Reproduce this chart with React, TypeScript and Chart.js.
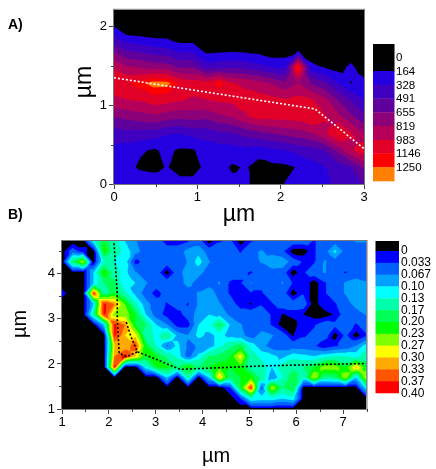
import React, { useEffect, useRef } from "react";
import { Chart, registerables } from "chart.js";

Chart.register(...registerables);

const FONT = "'Liberation Sans', Arial, sans-serif";

// ---------- Panel A ----------
const xsA = [0, 0.158, 0.316, 0.474, 0.632, 0.789, 0.947, 1.105, 1.263, 1.421, 1.579, 1.737, 1.895, 2.053, 2.211, 2.368, 2.526, 2.684, 2.842, 3];
const ysA = [0, 0.213, 0.427, 0.64, 0.853, 1.067, 1.28, 1.493, 1.707, 1.92, 2.133, 2.347];
const a00 = [240, 280, 335, 280, 220, 220, 210, 210, 210, 210, 180, 130, 120, 170, 210, 280, 300, 360, 420, 500];
const a01 = [250, 220, 130, 110, 175, 100, 110, 200, 230, 140, 180, 100, 120, 130, 175, 260, 320, 400, 480, 680];
const a02 = [280, 240, 190, 140, 200, 140, 150, 230, 250, 260, 280, 230, 300, 320, 380, 420, 480, 700, 950, 1120];
const a03 = [400, 440, 420, 410, 340, 330, 370, 400, 450, 470, 550, 600, 650, 700, 740, 800, 950, 1170, 1000, 840];
const a04 = [660, 700, 750, 780, 730, 700, 720, 700, 780, 830, 960, 1040, 1040, 1040, 1060, 1150, 1000, 880, 700, 530];
const a05 = [950, 980, 1000, 1070, 1050, 1000, 960, 980, 1010, 1020, 1040, 1060, 1030, 1000, 1040, 1010, 880, 650, 480, 320];
const a06 = [1080, 1130, 1210, 1310, 1300, 1130, 1060, 1050, 1200, 1000, 950, 880, 800, 700, 820, 640, 520, 330, 160, 220];
const a07 = [960, 820, 790, 740, 720, 620, 620, 390, 420, 450, 420, 370, 290, 290, 1260, 210, 140, 90, 200, 60];
const a08 = [610, 464, 430, 380, 365, 270, 270, 100, 110, 120, 110, 90, 50, 50, 110, 30, 20, 10, 30, 0];
const a09 = [260, 120, 100, 70, 60, 0, 0, 0, 0, 0, 0, 0, 0, 0, 0, 0, 0, 0, 0, 0];
const a10 = [0, 0, 0, 0, 0, 0, 0, 0, 0, 0, 0, 0, 0, 0, 0, 0, 0, 0, 0, 0];
const a11 = [0, 0, 0, 0, 0, 0, 0, 0, 0, 0, 0, 0, 0, 0, 0, 0, 0, 0, 0, 0];
const gridA = [a00, a01, a02, a03, a04, a05, a06, a07, a08, a09, a10, a11];
const levelsA = [0, 164, 328, 491, 655, 819, 983, 1146, 1250];
const labelsA = ["0", "164", "328", "491", "655", "819", "983", "1146", "1250"];
const colorsA = ["#000000", "#2400e0", "#4000c0", "#60009c", "#8c0078", "#b40058", "#e00028", "#ff0000", "#ff8000"];
const lineAx = [0, 2.41, 3];
const lineAy = [1.35, 0.954, 0.45];

// ---------- Panel B ----------
const xsB = [1, 1.224, 1.448, 1.672, 1.897, 2.121, 2.345, 2.569, 2.793, 3.017, 3.241, 3.466, 3.69, 3.914, 4.138, 4.362, 4.586, 4.81, 5.034, 5.259, 5.483, 5.707, 5.931, 6.155, 6.379, 6.603, 6.828, 7.052, 7.276, 7.5];
const ysB = [1, 1.23, 1.47, 1.7, 1.93, 2.17, 2.4, 2.63, 2.87, 3.1, 3.33, 3.57, 3.8, 4.03, 4.27, 4.5, 4.73];
const b00 = [0, 0, 0, 0, 0, 0, 0, 0, 0, 0, 0, 0, 0, 0, 0, 0, 0, 0, 0, 0, 0, 0, 0, 0, 0, 0, 0, 0, 0, 0];
const b01 = [0, 0, 0, 0, 0, 0, 0, 0, 0, 0, 0, 0, 0, 0, 0, 0, 0, 0.03, 0.13, 0.12, 0.12, 0.1, 0.12, 0, 0, 0, 0, 0, 0, 0];
const b02 = [0, 0, 0, 0, 0, 0, 0, 0, 0, 0, 0, 0, 0, 0, 0, 0, 0.03, 0.2, 0.37, 0.05, 0.27, 0.17, 0.2, 0, 0, 0, 0, 0, 0, 0.12];
const b03 = [0, 0, 0, 0, 0, 0, 0, 0, 0, 0, 0.1, 0, 0.15, 0, 0.1, 0.31, 0.17, 0.2, 0.22, 0.16, 0.07, 0.13, 0.2, 0.13, 0.27, 0.16, 0.17, 0.26, 0.1, 0.28];
const b04 = [0, 0, 0, 0, 0, 0.38, 0, 0, 0.12, 0.2, 0.21, 0.17, 0.22, 0.17, 0.2, 0.22, 0.2, 0.22, 0.15, 0.15, 0.1, 0.15, 0.16, 0.17, 0.2, 0.25, 0.25, 0.2, 0.31, 0.2];
const b05 = [0, 0, 0, 0, 0, 0.33, 0.39, 0.3, 0.2, 0.2, 0.16, 0.12, 0.05, 0.11, 0.17, 0.18, 0.2, 0.29, 0.15, 0.12, 0.11, 0.09, 0.12, 0.11, 0.1, 0.12, 0.13, 0.13, 0.12, 0.15];
const b06 = [0, 0, 0, 0, 0, 0.3, 0.3, 0.36, 0.2, 0.13, 0.06, 0.11, 0.06, 0.07, 0.08, 0.12, 0.16, 0.19, 0.12, 0.08, 0.05, 0.05, 0.05, 0.05, 0.04, 0.01, 0.03, 0.04, 0.07, 0.12];
const b07 = [0, 0, 0, 0, 0, 0.38, 0.3, 0.29, 0.15, 0.12, 0.17, 0.09, 0.07, 0.11, 0.09, 0.11, 0.09, 0.08, 0.05, 0.08, 0.07, 0.05, 0.01, 0.03, 0.04, 0.05, 0, 0.04, 0, 0.03];
const b08 = [0, 0, 0, 0, 0.1, 0.38, 0.33, 0.2, 0.17, 0.1, 0.07, 0.02, 0.02, 0.1, 0.12, 0.19, 0.1, 0.07, 0.05, 0.05, 0.03, 0, 0, 0.03, 0.03, 0.05, 0.04, 0.05, 0.03, 0.05];
const b09 = [0, 0, 0, 0.15, 0.38, 0.25, 0.25, 0.2, 0.1, 0.05, 0.02, 0.02, 0.05, 0.08, 0.1, 0.09, 0.06, 0.05, 0.05, 0.05, 0.03, 0.01, 0.02, 0.012, 0, 0, 0.015, 0.05, 0.05, 0.07];
const b10 = [0, 0, 0, 0.1, 0.38, 0.33, 0.23, 0.14, 0.08, 0.05, 0.03, 0.05, 0.03, 0.07, 0.09, 0.07, 0.05, 0.02, 0.01, 0.03, 0.03, 0.05, 0.05, 0.05, 0, 0.03, 0.03, 0.05, 0.08, 0.09];
const b11 = [0.02, 0, 0, 0.37, 0.15, 0.2, 0.14, 0.09, 0.05, 0.02, 0.05, 0.05, 0.05, 0.07, 0.09, 0.05, 0.03, 0.02, 0.03, 0.03, 0.05, 0.05, 0, 0.03, 0, 0.03, 0.05, 0.07, 0.09, 0.09];
const b12 = [0, 0, 0, 0.1, 0.17, 0.18, 0.1, 0.1, 0.07, 0.05, 0.05, 0.05, 0.08, 0.05, 0.05, 0.07, 0.03, 0.03, 0.07, 0.04, 0.05, 0.07, 0.03, 0.03, 0, 0.03, 0.05, 0.07, 0.08, 0.07];
const b13 = [0, 0, 0, 0.1, 0.23, 0.15, 0.11, 0.07, 0.05, 0.05, 0, 0.05, 0.09, 0.08, 0.05, 0.05, 0.05, 0.04, 0.03, 0.05, 0.05, 0.05, 0, 0.03, 0.05, 0.07, 0.05, 0.03, 0.05, 0.05];
const b14 = [0, 0.18, 0.27, 0, 0.14, 0.13, 0.12, 0.02, 0.05, 0.05, 0.05, 0.05, 0.07, 0.115, 0.07, 0.05, 0.05, 0.05, 0.05, 0.07, 0.1, 0.09, 0.05, 0.03, 0.03, 0.07, 0.05, 0.05, 0.05, 0.05];
const b15 = [0, 0.05, 0.02, 0, 0.22, 0.15, 0.12, 0.08, 0.05, 0.05, 0.05, 0.05, 0.08, 0.09, 0.05, 0.05, 0.05, 0.03, 0.06, 0.07, 0.05, 0.04, 0, 0, 0.03, 0.05, 0.11, 0.05, 0.05, 0.05];
const b16 = [0, 0, 0, 0.12, 0.2, 0.14, 0.1, 0.07, 0.05, 0.05, 0.02, 0.02, 0.03, 0.05, 0, 0.03, 0.04, 0, 0.03, 0.04, 0.05, 0.05, 0.05, 0.05, 0.03, 0.05, 0.05, 0.05, 0.07, 0.07];
const gridB = [b00, b01, b02, b03, b04, b05, b06, b07, b08, b09, b10, b11, b12, b13, b14, b15, b16];
const levelsB = [-1, 0.012, 0.033, 0.067, 0.1, 0.13, 0.17, 0.2, 0.23, 0.27, 0.3, 0.33, 0.37];
const labelsB = ["0", "0.033", "0.067", "0.10", "0.13", "0.17", "0.20", "0.23", "0.27", "0.30", "0.33", "0.37", "0.40"];
const colorsB = ["#000000", "#0000ff", "#0060ff", "#00a0ff", "#00ffff", "#00ffaa", "#00ff55", "#00ff00", "#80ff00", "#ffff00", "#ffaa00", "#ff5500", "#ff0000"];
const line1Bx = [2.11, 2.18, 2.18, 2.22, 2.37, 2.61, 2.47, 2.37];
const line1By = [4.68, 3.57, 2.98, 2.24, 2.16, 2.27, 2.61, 2.94];
const line2Bx = [2.61, 2.74, 3.52, 5.37, 7.5];
const line2By = [2.27, 2.22, 1.88, 1.96, 2.01];

type P = [number, number, number];

function clipAbove(poly: P[], t: number): P[] {
  const out: P[] = [];
  for (let i = 0; i < poly.length; i++) {
    const a = poly[i];
    const b = poly[(i + 1) % poly.length];
    const ai = a[2] >= t;
    const bi = b[2] >= t;
    if (ai) out.push(a);
    if (ai !== bi) {
      const f = (t - a[2]) / (b[2] - a[2]);
      out.push([a[0] + (b[0] - a[0]) * f, a[1] + (b[1] - a[1]) * f, t]);
    }
  }
  return out;
}

function drawContours(chart: any, xs: number[], ys: number[], grid: number[][], levels: number[], colors: string[]) {
  const { ctx, chartArea: ca, scales } = chart;
  ctx.save();
  ctx.beginPath();
  ctx.rect(ca.left, ca.top, ca.right - ca.left, ca.bottom - ca.top);
  ctx.clip();
  ctx.fillStyle = colors[0];
  ctx.fillRect(ca.left, ca.top, ca.right - ca.left, ca.bottom - ca.top);
  const px = (i: number) => scales.x.getPixelForValue(xs[i]);
  const py = (j: number) => scales.y.getPixelForValue(ys[j]);
  for (let k = 1; k < levels.length; k++) {
    ctx.beginPath();
    for (let j = 0; j < ys.length - 1; j++) {
      for (let i = 0; i < xs.length - 1; i++) {
        const p00: P = [px(i), py(j), grid[j][i]];
        const p10: P = [px(i + 1), py(j), grid[j][i + 1]];
        const p11: P = [px(i + 1), py(j + 1), grid[j + 1][i + 1]];
        const p01: P = [px(i), py(j + 1), grid[j + 1][i]];
        const sorted = [p00[2], p10[2], p11[2], p01[2]].sort((m, n) => m - n);
        const c: P = [(p00[0] + p11[0]) / 2, (p00[1] + p11[1]) / 2, (sorted[1] + sorted[2]) / 2];
        const tris: P[][] = [[p00, p10, c], [p10, p11, c], [p11, p01, c], [p01, p00, c]];
        for (const tri of tris) {
          const poly = clipAbove(tri, levels[k]);
          if (poly.length < 3) continue;
          ctx.moveTo(poly[0][0], poly[0][1]);
          for (let n = 1; n < poly.length; n++) ctx.lineTo(poly[n][0], poly[n][1]);
          ctx.closePath();
        }
      }
    }
    ctx.fillStyle = colors[k];
    ctx.fill();
  }
  ctx.restore();
}

type Cfg = {
  top: number;
  height: number;
  plot: { left: number; top: number; right: number; bottom: number };
  xs: number[];
  ys: number[];
  grid: number[][];
  levels: number[];
  colors: string[];
  labels: string[];
  xRange: [number, number];
  yRange: [number, number];
  xMinor: number[];
  yMinor: number[];
  lines: { xs: number[]; ys: number[]; color: string; dash: number[] }[];
  swatch: { left: number; right: number; top: number; firstH: number; h: number };
  legendLabel: { x: number; y: number; dy: number; size: number };
  panels: { text: string; x: number; y: number }[];
  xTitle: { x: number; y: number; size: number };
  yTitle: { x: number; y: number; size: number };
};

const cfgA: Cfg = {
  top: 0,
  height: 230,
  plot: { left: 114, top: 8, right: 364, bottom: 184 },
  xs: xsA,
  ys: ysA,
  grid: gridA,
  levels: levelsA,
  colors: colorsA,
  labels: labelsA,
  xRange: [0, 3],
  yRange: [0, 2.213],
  xMinor: [0.5, 1.5, 2.5],
  yMinor: [0.5, 1.5],
  lines: [{ xs: lineAx, ys: lineAy, color: "#ffffff", dash: [2, 2] }],
  swatch: { left: 373, right: 394.5, top: 44, firstH: 27, h: 13.75 },
  legendLabel: { x: 396, y: 58, dy: 13.75, size: 11.5 },
  panels: [
    { text: "A)", x: 8, y: 25 },
    { text: "B)", x: 8, y: 215 },
  ],
  xTitle: { x: 239, y: 215, size: 23 },
  yTitle: { x: 85, y: 82, size: 23 },
};

const cfgB: Cfg = {
  top: 230,
  height: 239,
  plot: { left: 62, top: 11, right: 366.5, bottom: 179 },
  xs: xsB,
  ys: ysB,
  grid: gridB,
  levels: levelsB,
  colors: colorsB,
  labels: labelsB,
  xRange: [1, 7.5],
  yRange: [1, 4.73],
  xMinor: [1.5, 2.5, 3.5, 4.5, 5.5, 6.5, 7.5],
  yMinor: [1.5, 2.5, 3.5, 4.5],
  lines: [
    { xs: line1Bx, ys: line1By, color: "#000000", dash: [2, 2] },
    { xs: line2Bx, ys: line2By, color: "#000000", dash: [2, 2] },
  ],
  swatch: { left: 375.5, right: 399, top: 11, firstH: 10, h: 11.83 },
  legendLabel: { x: 401, y: 21, dy: 11.85, size: 12 },
  panels: [],
  xTitle: { x: 216, y: 226, size: 20 },
  yTitle: { x: 20, y: 94, size: 20 },
};

function Panel({ cfg }: { cfg: Cfg }) {
  const ref = useRef<HTMLCanvasElement>(null);
  useEffect(() => {
    const { plot } = cfg;
    const axisColor = "#444444";
    const plugin = {
      id: "contour",
      beforeDatasetsDraw(chart: any) {
        drawContours(chart, cfg.xs, cfg.ys, cfg.grid, cfg.levels, cfg.colors);
      },
      afterDraw(chart: any) {
        const { ctx, chartArea: ca, scales } = chart;
        ctx.save();
        ctx.strokeStyle = "#777777";
        ctx.lineWidth = 1;
        ctx.strokeRect(ca.left - 0.5, ca.top - 0.5, ca.right - ca.left + 1, ca.bottom - ca.top + 1);
        ctx.strokeStyle = axisColor;
        ctx.beginPath();
        for (const v of cfg.xMinor) {
          const x = Math.round(scales.x.getPixelForValue(v)) + 0.5;
          ctx.moveTo(x, ca.bottom);
          ctx.lineTo(x, ca.bottom + 3);
        }
        for (const v of cfg.yMinor) {
          const y = Math.round(scales.y.getPixelForValue(v)) + 0.5;
          ctx.moveTo(ca.left - 3, y);
          ctx.lineTo(ca.left, y);
        }
        ctx.stroke();
        const s = cfg.swatch;
        let y = s.top;
        cfg.colors.forEach((c, i) => {
          const h = i === 0 ? s.firstH : s.h;
          ctx.fillStyle = c;
          ctx.fillRect(s.left, y, s.right - s.left, h + 0.3);
          y += h;
        });
        ctx.fillStyle = "#000000";
        ctx.textBaseline = "middle";
        ctx.textAlign = "left";
        ctx.font = `${cfg.legendLabel.size}px ${FONT}`;
        cfg.labels.forEach((t, i) => {
          ctx.fillText(t, cfg.legendLabel.x, cfg.legendLabel.y + i * cfg.legendLabel.dy);
        });
        ctx.textAlign = "center";
        ctx.font = `${cfg.xTitle.size}px ${FONT}`;
        ctx.fillText("µm", cfg.xTitle.x, cfg.xTitle.y);
        ctx.save();
        ctx.translate(cfg.yTitle.x, cfg.yTitle.y);
        ctx.rotate(-Math.PI / 2);
        ctx.font = `${cfg.yTitle.size}px ${FONT}`;
        ctx.fillText("µm", 0, 0);
        ctx.restore();
        ctx.font = `bold 14px ${FONT}`;
        ctx.textAlign = "left";
        for (const p of cfg.panels) ctx.fillText(p.text, p.x, p.y);
        ctx.restore();
      },
    };
    const tickFont = { family: FONT, size: 13 };
    const chart = new Chart(ref.current as HTMLCanvasElement, {
      type: "scatter",
      data: {
        datasets: cfg.lines.map((l) => ({
          data: l.xs.map((x, i) => ({ x, y: l.ys[i] })),
          showLine: true,
          borderColor: l.color,
          borderWidth: 1.6,
          borderDash: l.dash,
          pointRadius: 0,
          tension: 0,
        })),
      },
      options: {
        animation: false,
        responsive: false,
        layout: { padding: { left: 0, top: plot.top, right: 436 - plot.right, bottom: 0 } },
        plugins: { legend: { display: false }, title: { display: false }, tooltip: { enabled: false } },
        scales: {
          x: {
            type: "linear",
            min: cfg.xRange[0],
            max: cfg.xRange[1],
            afterFit: (s: any) => {
              s.height = cfg.height - plot.bottom;
            },
            ticks: { stepSize: 1, includeBounds: false, color: "#000", font: tickFont, maxRotation: 0, padding: 1 },
            grid: { drawOnChartArea: false, drawTicks: true, tickLength: 5, color: axisColor },
            border: { display: false },
          },
          y: {
            type: "linear",
            min: cfg.yRange[0],
            max: cfg.yRange[1],
            afterFit: (s: any) => {
              s.width = plot.left;
            },
            ticks: { stepSize: 1, includeBounds: false, color: "#000", font: tickFont, padding: 2 },
            grid: { drawOnChartArea: false, drawTicks: true, tickLength: 5, color: axisColor },
            border: { display: false },
          },
        },
      } as any,
      plugins: [plugin],
    });
    return () => chart.destroy();
  }, [cfg]);
  return (
    <canvas
      ref={ref}
      width={436}
      height={cfg.height}
      style={{ position: "absolute", left: 0, top: cfg.top, display: "block", filter: "blur(0.35px)" }}
    />
  );
}

export default function App() {
  return (
    <div style={{ position: "absolute", left: 0, top: 0, width: 436, height: 469, overflow: "hidden", background: "#fff" }}>
      <Panel cfg={cfgA} />
      <Panel cfg={cfgB} />
    </div>
  );
}
